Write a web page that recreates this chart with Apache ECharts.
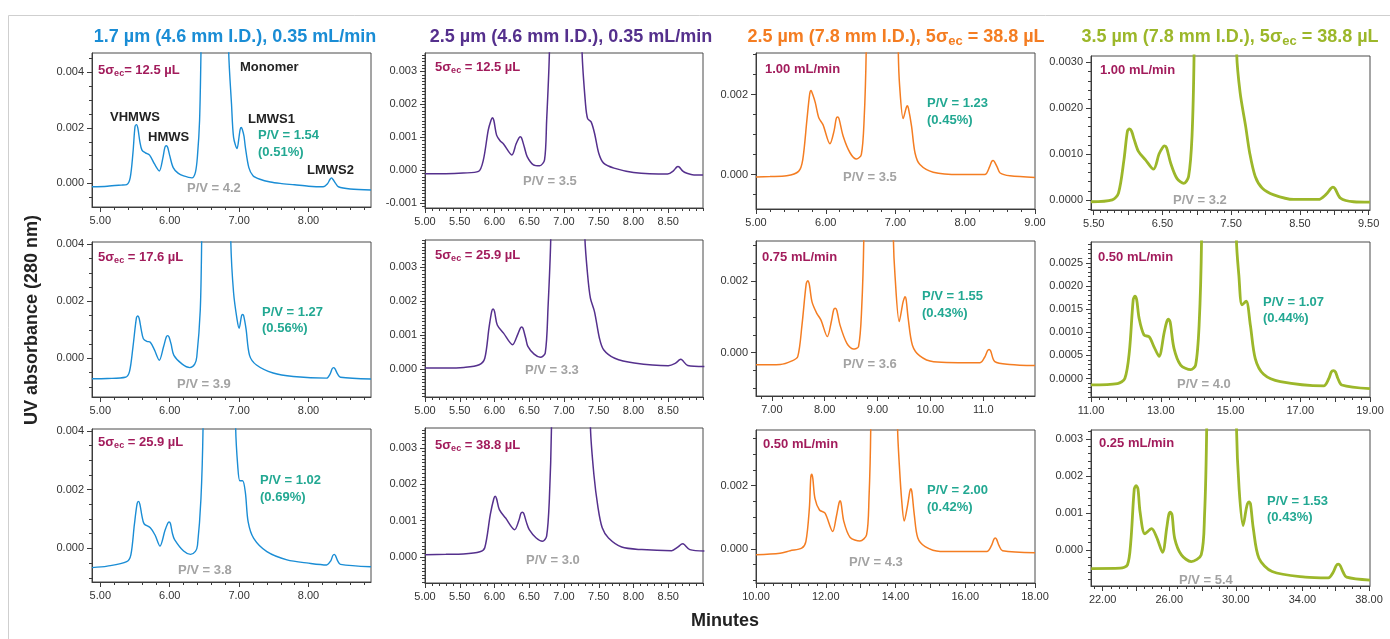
<!DOCTYPE html>
<html><head><meta charset="utf-8">
<script src="https://cdn.jsdelivr.net/npm/echarts@6/dist/echarts.min.js"></script>
<style>html,body{margin:0;padding:0;background:#fff}#c{width:1390px;height:639px}</style>
</head><body><div id="c"></div>
<script>
// ---------- DATA (time in minutes, UV absorbance) ----------
const A1 = [[4.88,-0.00012],[5.10,-0.0001],[5.30,-0.00006],[5.38,-0.00004],[5.43,0.0002],[5.47,0.0011],[5.50,0.00205],[5.52,0.00212],[5.54,0.002],[5.57,0.0015],[5.60,0.0012],[5.65,0.0011],[5.71,0.00102],[5.78,0.0007],[5.85,0.00045],[5.90,0.0009],[5.93,0.0013],[5.95,0.00136],[5.97,0.0013],[6.00,0.001],[6.05,0.00057],[6.12,0.00037],[6.20,0.00027],[6.32,0.0002],[6.37,0.0004],[6.40,0.001],[6.43,0.00227],[6.45,0.0047],[6.47,0.009],[6.65,0.03],[6.83,0.009],[6.85,0.0047],[6.89,0.00287],[6.92,0.00166],[6.97,0.00126],[7.00,0.0017],[7.015,0.00195],[7.03,0.00202],[7.045,0.00195],[7.07,0.0017],[7.09,0.0013],[7.14,0.00057],[7.20,0.00028],[7.30,0.00015],[7.45,0.00005],[7.59,0.0],[7.8,-0.00005],[8.0,-0.0001],[8.21,-0.00012],[8.27,-0.00002],[8.31,0.00015],[8.33,0.0002],[8.35,0.00015],[8.39,0.0],[8.43,-0.00012],[8.6,-0.0002],[8.9,-0.00024]];
const A2 = [[4.88,-0.00071],[5.10,-0.0007],[5.36,-0.00066],[5.42,-0.00046],[5.47,0.0004],[5.52,0.00142],[5.54,0.00149],[5.56,0.0014],[5.59,0.001],[5.62,0.00069],[5.67,0.0006],[5.72,0.00057],[5.78,0.0003],[5.85,-0.00006],[5.91,0.0004],[5.95,0.00075],[5.97,0.0008],[5.99,0.00075],[6.02,0.0005],[6.06,0.00011],[6.18,-0.0002],[6.29,-0.00032],[6.36,-0.0002],[6.39,0.00006],[6.44,0.0017],[6.46,0.0041],[6.48,0.009],[6.67,0.03],[6.86,0.009],[6.88,0.0041],[6.92,0.0023],[6.97,0.00137],[7.00,0.00106],[7.035,0.0015],[7.05,0.00154],[7.065,0.0015],[7.10,0.00103],[7.15,0.00011],[7.25,-0.00023],[7.49,-0.00051],[7.78,-0.00063],[8.26,-0.00069],[8.31,-0.00055],[8.34,-0.00036],[8.36,-0.00032],[8.38,-0.00036],[8.42,-0.00055],[8.46,-0.00066],[8.9,-0.00072]];
const A3 = [[4.88,-0.00065],[5.10,-0.0006],[5.38,-0.00045],[5.44,-0.00022],[5.49,0.0008],[5.53,0.00152],[5.55,0.0016],[5.57,0.0015],[5.60,0.0011],[5.63,0.00084],[5.72,0.0007],[5.79,0.00045],[5.86,0.00008],[5.93,0.0006],[5.97,0.00085],[5.99,0.0009],[6.01,0.00085],[6.04,0.0005],[6.07,0.0003],[6.20,-0.00009],[6.30,-0.0002],[6.37,-0.0001],[6.40,0.00011],[6.45,0.0017],[6.48,0.0041],[6.50,0.009],[6.72,0.03],[6.93,0.009],[6.95,0.0041],[6.98,0.0028],[7.01,0.0023],[7.05,0.0023],[7.09,0.0019],[7.13,0.0009],[7.21,0.00034],[7.40,-0.00011],[7.69,-0.00039],[8.0,-0.0005],[8.26,-0.00056],[8.32,-0.00042],[8.35,-0.00024],[8.37,-0.0002],[8.39,-0.00025],[8.42,-0.00042],[8.46,-0.00054],[8.9,-0.00062]];
const B1 = [[5.0,-0.0001],[5.3,-0.0001],[5.55,-0.00008],[5.77,-0.00003],[5.84,0.00032],[5.91,0.00122],[5.95,0.00152],[5.97,0.0016],[5.99,0.00152],[6.03,0.00107],[6.08,0.0009],[6.13,0.0008],[6.25,0.00047],[6.31,0.0008],[6.35,0.00098],[6.37,0.00102],[6.39,0.00098],[6.43,0.0007],[6.47,0.00042],[6.56,0.00017],[6.65,0.00014],[6.72,0.00032],[6.75,0.0015],[6.79,0.0036],[6.81,0.008],[7.02,0.03],[7.24,0.008],[7.26,0.0036],[7.31,0.002],[7.34,0.00157],[7.39,0.00147],[7.44,0.00112],[7.50,0.00052],[7.57,0.00022],[7.72,0.00007],[8.0,-0.00006],[8.49,-0.00011],[8.57,-0.00002],[8.62,0.0001],[8.64,0.00012],[8.66,0.0001],[8.71,-0.00002],[8.76,-0.00008],[8.87,-0.00014],[9.0,-0.00014]];
const B2 = [[5.0,0.00003],[5.3,0.00003],[5.56,0.00005],[5.78,0.00013],[5.86,0.00032],[5.92,0.0012],[5.96,0.0017],[5.98,0.00177],[6.00,0.0017],[6.04,0.0013],[6.13,0.00106],[6.26,0.00072],[6.33,0.001],[6.37,0.0012],[6.39,0.00124],[6.41,0.0012],[6.45,0.0009],[6.48,0.00067],[6.57,0.00044],[6.66,0.00035],[6.73,0.00047],[6.77,0.0018],[6.81,0.0039],[6.83,0.008],[7.05,0.03],[7.28,0.008],[7.30,0.0039],[7.34,0.00277],[7.38,0.00209],[7.44,0.00168],[7.51,0.00091],[7.57,0.00057],[7.73,0.00032],[8.01,0.00018],[8.50,0.0001],[8.60,0.00017],[8.66,0.00027],[8.68,0.00029],[8.70,0.00027],[8.78,0.00011],[9.02,0.00008]];
const B3 = [[5.0,0.00006],[5.3,0.00007],[5.55,0.00008],[5.79,0.00014],[5.86,0.00025],[5.94,0.00117],[5.99,0.0016],[6.01,0.00167],[6.03,0.0016],[6.07,0.0013],[6.16,0.00107],[6.29,0.00075],[6.35,0.001],[6.38,0.0012],[6.40,0.00123],[6.42,0.0012],[6.46,0.00095],[6.50,0.00075],[6.60,0.00052],[6.69,0.00043],[6.75,0.00057],[6.79,0.00162],[6.82,0.0036],[6.84,0.008],[7.10,0.03],[7.36,0.008],[7.38,0.0036],[7.43,0.00227],[7.49,0.00135],[7.55,0.0008],[7.64,0.00052],[7.83,0.00027],[8.12,0.0002],[8.55,0.00017],[8.63,0.00026],[8.69,0.00035],[8.71,0.00036],[8.73,0.00034],[8.81,0.0002],[9.02,0.00016]];
const C1 = [[5.0,-0.00006],[5.2,-0.00005],[5.44,-0.00003],[5.61,0.00008],[5.67,0.00037],[5.73,0.00137],[5.77,0.00202],[5.79,0.0021],[5.81,0.00202],[5.85,0.0018],[5.90,0.00142],[5.96,0.00125],[6.06,0.00077],[6.12,0.0011],[6.15,0.0014],[6.17,0.00144],[6.19,0.0014],[6.25,0.00096],[6.35,0.00054],[6.44,0.00039],[6.51,0.0005],[6.55,0.00137],[6.58,0.0031],[6.60,0.007],[6.81,0.03],[7.02,0.007],[7.04,0.0031],[7.06,0.0022],[7.11,0.0014],[7.155,0.00168],[7.17,0.00172],[7.185,0.00166],[7.23,0.00121],[7.28,0.00054],[7.35,0.00025],[7.54,0.00006],[7.92,0.0],[8.28,0.0],[8.35,0.0002],[8.38,0.00033],[8.40,0.00035],[8.42,0.00032],[8.46,0.00018],[8.50,0.00004],[8.64,-0.00003],[9.0,-0.00007]];
const C2 = [[6.70,-0.00034],[7.16,-0.00033],[7.38,-0.00023],[7.49,-0.00011],[7.57,0.00077],[7.65,0.00192],[7.68,0.00201],[7.71,0.0019],[7.76,0.00142],[7.85,0.0011],[7.93,0.00091],[8.05,0.00045],[8.13,0.0009],[8.17,0.0012],[8.20,0.00124],[8.23,0.00118],[8.29,0.00077],[8.42,0.00026],[8.54,0.0001],[8.64,0.00017],[8.70,0.00124],[8.74,0.0032],[8.76,0.007],[9.02,0.03],[9.28,0.007],[9.30,0.0032],[9.33,0.00217],[9.41,0.00087],[9.48,0.0014],[9.50,0.0015],[9.52,0.00156],[9.54,0.0015],[9.58,0.00096],[9.66,0.00021],[9.80,-0.00009],[10.06,-0.00025],[10.94,-0.00028],[11.03,-0.00012],[11.08,0.00005],[11.11,0.00009],[11.14,0.00005],[11.22,-0.00025],[11.50,-0.00033],[11.98,-0.00036]];
const C3 = [[10.0,-0.00019],[10.69,-0.00014],[10.98,-0.00006],[11.31,0.00002],[11.43,0.00023],[11.53,0.00128],[11.57,0.00225],[11.60,0.00236],[11.63,0.00222],[11.69,0.0016],[11.82,0.00123],[11.98,0.00113],[12.20,0.00055],[12.30,0.001],[12.38,0.00145],[12.41,0.00152],[12.44,0.00145],[12.52,0.00086],[12.70,0.00036],[12.98,0.00025],[13.17,0.00044],[13.24,0.0016],[13.29,0.0038],[13.31,0.008],[13.68,0.03],[14.04,0.008],[14.06,0.0038],[14.11,0.00265],[14.18,0.0015],[14.25,0.00088],[14.35,0.0014],[14.41,0.00182],[14.44,0.0019],[14.47,0.0018],[14.54,0.00107],[14.64,0.00034],[14.85,0.00007],[15.28,-0.00008],[16.62,-0.00008],[16.75,0.0001],[16.82,0.0003],[16.86,0.00034],[16.90,0.0003],[16.97,0.0001],[17.07,-0.00006],[18.0,-0.00012]];
const D1 = [[5.46,-0.00004],[5.77,0.0],[5.86,0.00015],[5.94,0.00088],[5.99,0.0015],[6.02,0.00155],[6.05,0.0015],[6.09,0.00131],[6.15,0.00106],[6.25,0.00088],[6.37,0.00067],[6.45,0.001],[6.50,0.00114],[6.53,0.00118],[6.56,0.00114],[6.62,0.0008],[6.71,0.00047],[6.81,0.00036],[6.88,0.00051],[6.93,0.00139],[6.96,0.0032],[6.98,0.007],[7.27,0.03],[7.56,0.007],[7.58,0.0032],[7.63,0.00234],[7.71,0.00161],[7.77,0.00102],[7.85,0.00051],[7.95,0.00026],[8.12,0.00011],[8.41,0.00001],[8.77,0.00001],[8.88,0.00012],[8.95,0.00025],[8.98,0.00028],[9.01,0.00025],[9.09,0.00004],[9.28,-0.00004],[9.52,-0.00005]];
const D2 = [[11.0,-0.00014],[11.76,-0.00011],[11.97,0.0],[12.10,0.00058],[12.21,0.0017],[12.26,0.00178],[12.31,0.0017],[12.38,0.0013],[12.52,0.00094],[12.67,0.0009],[12.81,0.00068],[12.95,0.00048],[13.10,0.001],[13.17,0.00122],[13.22,0.00128],[13.27,0.00122],[13.38,0.00065],[13.57,0.00029],[13.86,0.00019],[14.0,0.00029],[14.10,0.00115],[14.17,0.003],[14.20,0.007],[14.68,0.03],[15.15,0.007],[15.17,0.003],[15.24,0.00223],[15.33,0.00159],[15.45,0.00167],[15.57,0.00115],[15.71,0.00043],[15.95,0.00009],[16.43,-0.00007],[17.67,-0.00016],[17.82,0.0],[17.89,0.00014],[17.95,0.00017],[18.01,0.00014],[18.08,0.0],[18.19,-0.00014],[19.0,-0.00022]];
const D3 = [[21.31,-0.0005],[23.06,-0.00049],[23.49,-0.0004],[23.69,0.00022],[23.9,0.00165],[24.01,0.00174],[24.12,0.00165],[24.25,0.00102],[24.54,0.00044],[24.94,0.00058],[25.24,0.00035],[25.60,-0.00006],[25.85,0.0006],[25.97,0.00095],[26.07,0.00102],[26.17,0.00095],[26.33,0.00031],[26.73,-0.00013],[27.32,-0.00031],[27.92,-0.00013],[28.12,0.00093],[28.25,0.0033],[28.30,0.007],[29.15,0.03],[30.0,0.007],[30.04,0.0033],[30.20,0.00164],[30.44,0.00066],[30.62,0.0011],[30.70,0.00125],[30.79,0.0013],[30.88,0.00125],[31.05,0.00058],[31.39,-0.00022],[32.18,-0.00058],[34.17,-0.00073],[35.56,-0.00075],[35.85,-0.0006],[36.03,-0.00042],[36.15,-0.00038],[36.27,-0.00042],[36.45,-0.0006],[36.65,-0.00073],[38.06,-0.00081]];

// ---------- TICK LABELS ----------
const X_TICKS_A = [5,6,7,8];            const X_LABELS_A = ['5.00','6.00','7.00','8.00'];
const X_TICKS_B = [5,5.5,6,6.5,7,7.5,8,8.5]; const X_LABELS_B = ['5.00','5.50','6.00','6.50','7.00','7.50','8.00','8.50'];
const X_TICKS_C1 = [5,6,7,8,9];         const X_LABELS_C1 = ['5.00','6.00','7.00','8.00','9.00'];
const X_TICKS_C2 = [7,8,9,10,11];       const X_LABELS_C2 = ['7.00','8.00','9.00','10.00','11.0'];
const X_TICKS_C3 = [10,12,14,16,18];    const X_LABELS_C3 = ['10.00','12.00','14.00','16.00','18.00'];
const X_TICKS_D1 = [5.5,6.5,7.5,8.5,9.5]; const X_LABELS_D1 = ['5.50','6.50','7.50','8.50','9.50'];
const X_TICKS_D2 = [11,13,15,17,19];    const X_LABELS_D2 = ['11.00','13.00','15.00','17.00','19.00'];
const X_TICKS_D3 = [22,26,30,34,38];    const X_LABELS_D3 = ['22.00','26.00','30.00','34.00','38.00'];
const Y_TICKS_A = [0,0.002,0.004];      const Y_LABELS_A = ['0.000','0.002','0.004'];
const Y_TICKS_B1 = [-0.001,0,0.001,0.002,0.003]; const Y_LABELS_B1 = ['-0.001','0.000','0.001','0.002','0.003'];
const Y_TICKS_B = [0,0.001,0.002,0.003]; const Y_LABELS_B = ['0.000','0.001','0.002','0.003'];
const Y_TICKS_C = [0,0.002];            const Y_LABELS_C = ['0.000','0.002'];
const Y_TICKS_D1 = [0,0.001,0.002,0.003]; const Y_LABELS_D1 = ['0.0000','0.0010','0.0020','0.0030'];
const Y_TICKS_D2 = [0,0.0005,0.001,0.0015,0.002,0.0025]; const Y_LABELS_D2 = ['0.0000','0.0005','0.0010','0.0015','0.0020','0.0025'];
const Y_TICKS_D3 = [0,0.001,0.002,0.003]; const Y_LABELS_D3 = ['0.000','0.001','0.002','0.003'];

// ---------- STYLE / LAYOUT ----------
const FONT = 'Liberation Sans, Arial, Helvetica, sans-serif';
const COLORS = ['#1A8DD5','#55308D','#F47D22','#9CB72A'];
const WIDTHS = [1.4,1.5,1.5,2.8];
const MAGENTA = '#A21C5C', TEAL = '#22A892', GRAY = '#A3A3A3', AX = '#3c3c3c';
const COL_L = [92,425,756,1091], COL_R = [371,703,1035,1370];
const ROWS = [
  [[53,207],[242,397],[429,582]],
  [[53,208],[240,397],[428,583]],
  [[53,209],[241,396],[430,583]],
  [[56,210],[242,397],[430,586]]
];

const panels = [
 {d:A1,c:0,r:0,x:[4.88,8.9],xt:X_TICKS_A,xl:X_LABELS_A,xM:X_TICKS_A,xm:0.2,y:[-0.00085,0.0047],yt:Y_TICKS_A,yl:Y_LABELS_A,ym:0.0005},
 {d:A2,c:0,r:1,x:[4.88,8.9],xt:X_TICKS_A,xl:X_LABELS_A,xM:X_TICKS_A,xm:0.2,y:[-0.00135,0.00408],yt:Y_TICKS_A,yl:Y_LABELS_A,ym:0.0005},
 {d:A3,c:0,r:2,x:[4.88,8.9],xt:X_TICKS_A,xl:X_LABELS_A,xM:X_TICKS_A,xm:0.2,y:[-0.00114,0.00406],yt:Y_TICKS_A,yl:Y_LABELS_A,ym:0.0005},
 {d:B1,c:1,r:0,x:[5,9],xt:X_TICKS_B,xl:X_LABELS_B,xM:X_TICKS_B,xm:0.1,y:[-0.00114,0.00356],yt:Y_TICKS_B1,yl:Y_LABELS_B1,ym:0.0001},
 {d:B2,c:1,r:1,x:[5,9],xt:X_TICKS_B,xl:X_LABELS_B,xM:X_TICKS_B,xm:0.1,y:[-0.00082,0.0038],yt:Y_TICKS_B,yl:Y_LABELS_B,ym:0.0001},
 {d:B3,c:1,r:2,x:[5,9],xt:X_TICKS_B,xl:X_LABELS_B,xM:X_TICKS_B,xm:0.1,y:[-0.00072,0.00355],yt:Y_TICKS_B,yl:Y_LABELS_B,ym:0.0001},
 {d:C1,c:2,r:0,x:[5,9],xt:X_TICKS_C1,xl:X_LABELS_C1,xM:X_TICKS_C1,xm:0.2,y:[-0.00086,0.00304],yt:Y_TICKS_C,yl:Y_LABELS_C,ym:0.0005},
 {d:C2,c:2,r:1,x:[6.7,11.98],xt:X_TICKS_C2,xl:X_LABELS_C2,xM:X_TICKS_C2,xm:0.2,y:[-0.00121,0.00312],yt:Y_TICKS_C,yl:Y_LABELS_C,ym:0.0005},
 {d:C3,c:2,r:2,x:[10,18],xt:X_TICKS_C3,xl:X_LABELS_C3,xM:[10,11,12,13,14,15,16,17,18],xm:0.25,y:[-0.00108,0.00376],yt:Y_TICKS_C,yl:Y_LABELS_C,ym:0.0005},
 {d:D1,c:3,r:0,x:[5.46,9.52],xt:X_TICKS_D1,xl:X_LABELS_D1,xM:[5.5,6,6.5,7,7.5,8,8.5,9,9.5],xm:0.1,y:[-0.00022,0.00314],yt:Y_TICKS_D1,yl:Y_LABELS_D1,ym:0.0002},
 {d:D2,c:3,r:1,x:[11,19],xt:X_TICKS_D2,xl:X_LABELS_D2,xM:[11,12,13,14,15,16,17,18,19],xm:0.25,y:[-0.0004,0.00295],yt:Y_TICKS_D2,yl:Y_LABELS_D2,ym:0.0001},
 {d:D3,c:3,r:2,x:[21.3,38.06],xt:X_TICKS_D3,xl:X_LABELS_D3,xM:[22,24,26,28,30,32,34,36,38],xm:0.5,y:[-0.00097,0.00324],yt:Y_TICKS_D3,yl:Y_LABELS_D3,ym:0.0002}
];

function steps(min,max,step){const o=[];const k0=Math.ceil(min/step-1e-9),k1=Math.floor(max/step+1e-9);for(let k=k0;k<=k1;k++)o.push(+(k*step).toFixed(9));return o;}
function fmt(ticks,labels){return v=>{const i=ticks.findIndex(t=>Math.abs(t-v)<1e-9);return i<0?'':labels[i];};}

const grid=[],xAxis=[],yAxis=[],series=[];
panels.forEach((p,i)=>{
  const top=ROWS[p.c][p.r][0], bot=ROWS[p.c][p.r][1];
  grid.push({left:COL_L[p.c],top:top,width:COL_R[p.c]-COL_L[p.c],height:bot-top,show:true,borderColor:'#4a4a4a',borderWidth:1,backgroundColor:'transparent'});
  const base={type:'value',gridIndex:i,splitLine:{show:false}};
  xAxis.push(Object.assign({},base,{position:'bottom',min:p.x[0],max:p.x[1],
    axisLine:{show:true,onZero:false,lineStyle:{color:AX,width:1}},
    axisTick:{show:true,customValues:p.xM,length:5,lineStyle:{color:AX}},
    axisLabel:{show:true,customValues:p.xt,formatter:fmt(p.xt,p.xl),color:'#333',fontSize:11,fontFamily:FONT,margin:8}}));
  xAxis.push(Object.assign({},base,{position:'bottom',min:p.x[0],max:p.x[1],
    axisLine:{show:false,onZero:false},axisLabel:{show:false},
    axisTick:{show:true,customValues:steps(p.x[0],p.x[1],p.xm),length:3,lineStyle:{color:AX}}}));
  yAxis.push(Object.assign({},base,{position:'left',min:p.y[0],max:p.y[1],
    axisLine:{show:true,onZero:false,lineStyle:{color:AX,width:1}},
    axisTick:{show:true,customValues:p.yt,length:5,lineStyle:{color:AX}},
    axisLabel:{show:true,customValues:p.yt,formatter:fmt(p.yt,p.yl),color:'#333',fontSize:11,fontFamily:FONT,margin:8}}));
  yAxis.push(Object.assign({},base,{position:'left',min:p.y[0],max:p.y[1],
    axisLine:{show:false,onZero:false},axisLabel:{show:false},
    axisTick:{show:true,customValues:steps(p.y[0],p.y[1],p.ym),length:3,lineStyle:{color:AX}}}));
  series.push({type:'line',xAxisIndex:2*i,yAxisIndex:2*i,data:p.d,showSymbol:false,symbol:'none',smooth:0.3,clip:true,
    lineStyle:{color:COLORS[p.c],width:WIDTHS[p.c]},itemStyle:{color:COLORS[p.c]}});
});

// ---------- TEXT ----------
const graphic=[];
const RICH={m:{fontSize:13,fontWeight:'bold',fontFamily:FONT,fill:MAGENTA,lineHeight:16},
            s:{fontSize:9,fontWeight:'bold',fontFamily:FONT,fill:MAGENTA,lineHeight:16,padding:[7,0,0,0]}};
function T(x,y,text,color,opt){opt=opt||{};
  graphic.push({type:'text',x:x,y:y,rotation:opt.rot||0,silent:true,
    style:{text:text,fill:color,font:'bold '+(opt.size||13)+'px '+FONT,align:opt.align||'left',verticalAlign:'middle',rich:opt.rich}});}
function SIG(x,y,val,nospace){T(x,y,'{m|5σ}{s|ec}{m|'+(nospace?'':' ')+'= '+val+' µL}',MAGENTA,{rich:RICH});}
const TRICH=(c)=>({t:{fontSize:18,fontWeight:'bold',fontFamily:FONT,fill:c,lineHeight:21},
                   ts:{fontSize:13,fontWeight:'bold',fontFamily:FONT,fill:c,lineHeight:21,padding:[9,0,0,0]}});
T(235,37,'1.7 µm (4.6 mm I.D.), 0.35 mL/min',COLORS[0],{size:18,align:'center'});
T(571,37,'2.5 µm (4.6 mm I.D.), 0.35 mL/min',COLORS[1],{size:18,align:'center'});
T(896,37,'{t|2.5 µm (7.8 mm I.D.), 5σ}{ts|ec}{t| = 38.8 µL}',COLORS[2],{align:'center',rich:TRICH(COLORS[2])});
T(1230,37,'{t|3.5 µm (7.8 mm I.D.), 5σ}{ts|ec}{t| = 38.8 µL}',COLORS[3],{align:'center',rich:TRICH(COLORS[3])});
T(32,320,'UV absorbance (280 nm)','#222',{size:18,align:'center',rot:Math.PI/2});
T(725,621,'Minutes','#222',{size:18,align:'center'});
// column 1
SIG(98,70,'12.5',true); T(240,67,'Monomer','#222'); T(110,117,'VHMWS','#222'); T(148,137,'HMWS','#222');
T(248,119,'LMWS1','#222'); T(258,135,'P/V = 1.54',TEAL); T(258,152,'(0.51%)',TEAL); T(307,170,'LMWS2','#222'); T(187,188,'P/V = 4.2',GRAY);
SIG(98,257,'17.6'); T(262,312,'P/V = 1.27',TEAL); T(262,328,'(0.56%)',TEAL); T(177,384,'P/V = 3.9',GRAY);
SIG(98,442,'25.9'); T(260,480,'P/V = 1.02',TEAL); T(260,497,'(0.69%)',TEAL); T(178,570,'P/V = 3.8',GRAY);
// column 2
SIG(435,67,'12.5'); T(523,181,'P/V = 3.5',GRAY);
SIG(435,255,'25.9'); T(525,370,'P/V = 3.3',GRAY);
SIG(435,445,'38.8'); T(526,560,'P/V = 3.0',GRAY);
// column 3
T(765,69,'1.00 mL/min',MAGENTA); T(927,103,'P/V = 1.23',TEAL); T(927,120,'(0.45%)',TEAL); T(843,177,'P/V = 3.5',GRAY);
T(762,257,'0.75 mL/min',MAGENTA); T(922,296,'P/V = 1.55',TEAL); T(922,313,'(0.43%)',TEAL); T(843,364,'P/V = 3.6',GRAY);
T(763,444,'0.50 mL/min',MAGENTA); T(927,490,'P/V = 2.00',TEAL); T(927,507,'(0.42%)',TEAL); T(849,562,'P/V = 4.3',GRAY);
// column 4
T(1100,70,'1.00 mL/min',MAGENTA); T(1173,200,'P/V = 3.2',GRAY);
T(1098,257,'0.50 mL/min',MAGENTA); T(1263,302,'P/V = 1.07',TEAL); T(1263,318,'(0.44%)',TEAL); T(1177,384,'P/V = 4.0',GRAY);
T(1099,443,'0.25 mL/min',MAGENTA); T(1267,501,'P/V = 1.53',TEAL); T(1267,517,'(0.43%)',TEAL); T(1179,580,'P/V = 5.4',GRAY);
// outer frame
graphic.push({type:'rect',silent:true,z:-10,shape:{x:8.5,y:15.5,width:1400,height:700},style:{fill:'none',stroke:'#cfcfcf',lineWidth:1}});

const chart=echarts.init(document.getElementById('c'),null,{renderer:'canvas'});
chart.setOption({animation:false,backgroundColor:'#fff',grid,xAxis,yAxis,series,graphic});
</script></body></html>
